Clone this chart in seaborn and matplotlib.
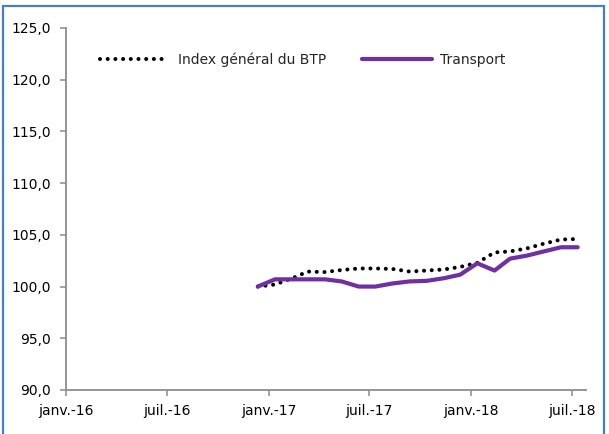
import pandas as pd
import matplotlib
matplotlib.use("Agg")
import matplotlib.pyplot as plt
import matplotlib.dates as mdates
from matplotlib.ticker import FuncFormatter
from matplotlib.patches import Rectangle
import seaborn as sns

# monthly values, Dec 2016 -> Jul 2018
months = pd.date_range("2016-12-01", "2018-07-01", freq="MS") + pd.Timedelta(days=11)
btp = [100.0, 100.2, 100.8, 101.45, 101.4, 101.6, 101.75, 101.75, 101.7, 101.45,
       101.55, 101.65, 101.9, 102.3, 103.3, 103.4, 103.7, 104.15, 104.55, 104.6]
transport = [100.0, 100.7, 100.7, 100.7, 100.7, 100.5, 100.0, 100.0, 100.3, 100.5,
             100.55, 100.8, 101.15, 102.25, 101.55, 102.7, 103.0, 103.4, 103.8, 103.8]
series_names = ["Index général du BTP", "Transport"]
mois = {1: "janv.", 7: "juil."}

df = pd.DataFrame({"date": months, "btp": btp, "transport": transport})

sns.set_style("ticks")
plt.rcParams["font.family"] = ["DejaVu Sans"]

fig = plt.figure(figsize=(6.09, 4.34), dpi=100)
ax = fig.add_axes([66 / 609, 1 - 390 / 434, 520 / 609, 362 / 434])

sns.lineplot(data=df, x="date", y="btp", ax=ax, color="black", lw=2.9,
             label=series_names[0], dashes=False)
ax.lines[-1].set_linestyle((0, (0.01, 1.9)))
ax.lines[-1].set_dash_capstyle("round")
sns.lineplot(data=df, x="date", y="transport", ax=ax, color="#7030A0", lw=3.0,
             label=series_names[1])

ax.set_ylim(90, 125)
ax.set_yticks([90, 95, 100, 105, 110, 115, 120, 125])
ax.yaxis.set_major_formatter(FuncFormatter(lambda v, p: f"{v:.1f}".replace(".", ",")))
ax.set_xlim(pd.Timestamp("2016-01-01"), pd.Timestamp("2018-07-27"))
ax.xaxis.set_major_locator(mdates.MonthLocator(bymonth=[1, 7]))
ax.xaxis.set_major_formatter(FuncFormatter(
    lambda v, p: f"{mois[mdates.num2date(v).month]}-{mdates.num2date(v).strftime('%y')}"))
ax.set_xlabel("")
ax.set_ylabel("")

sns.despine(ax=ax)
for s in ["left", "bottom"]:
    ax.spines[s].set_color("#8c8c8c")
    ax.spines[s].set_linewidth(1.3)
ax.tick_params(axis="both", colors="#8c8c8c", labelcolor="black", labelsize=10,
               length=4, width=1.1, direction="out")
ax.tick_params(axis="y", pad=7)
ax.tick_params(axis="x", pad=6)

leg = ax.legend(loc="center left", bbox_to_anchor=(100 / 609, 1 - 60 / 434),
                bbox_transform=fig.transFigure, ncol=2, frameon=False,
                handlelength=5.0, handletextpad=0.6, columnspacing=2.6,
                borderaxespad=0, borderpad=0, fontsize=10)

# chart frame
fig.patches.append(Rectangle((3 / 609, -0.1), 601 / 609, 1.1 - 6 / 434,
                             transform=fig.transFigure, fill=False,
                             edgecolor="#4A7EBB", lw=1.6, zorder=10))

fig.savefig("out.png", dpi=100)
